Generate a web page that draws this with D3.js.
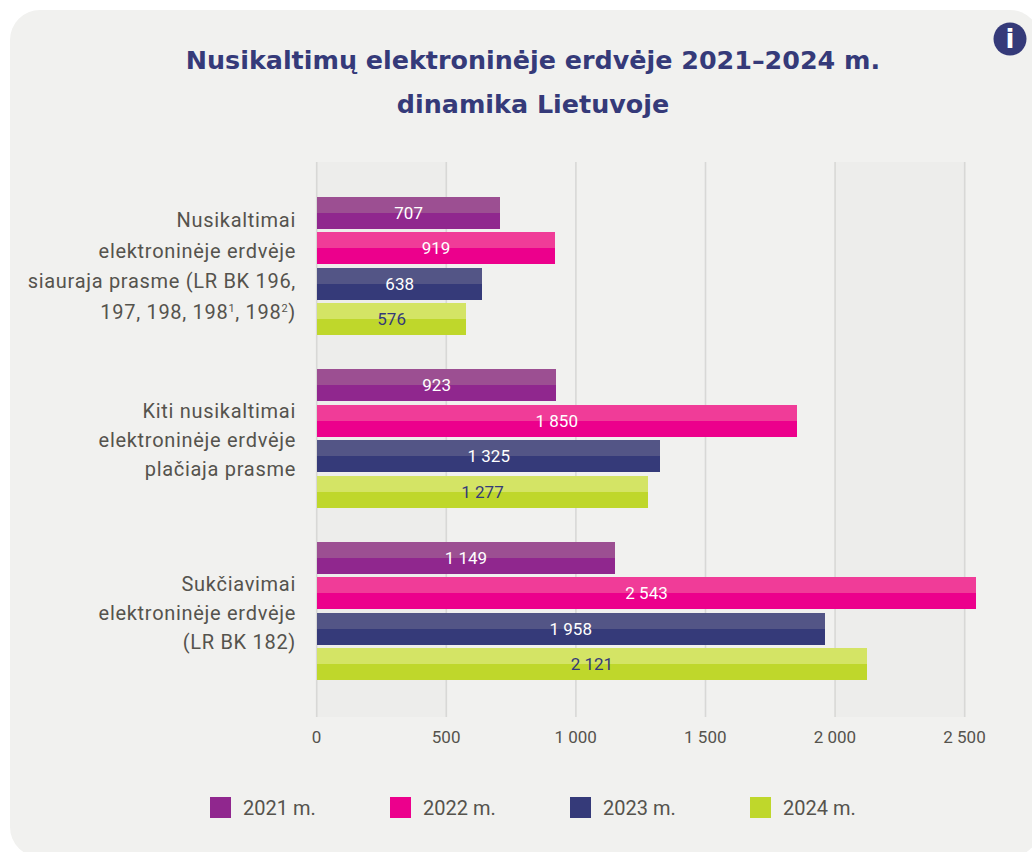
<!DOCTYPE html>
<html>
<head>
<meta charset="utf-8">
<script src="https://cdn.jsdelivr.net/npm/d3@7"></script>
<style>
  body { margin: 0; background: #fff; }
  svg { display: block; }
  .ticks text { font-family: Roboto, sans-serif; font-size: 17px; fill: #55534d; }
</style>
</head>
<body>
<div id="chart"></div>
<script>
// data
var categories = ["siaura", "placia", "sukciavimai"];
var years = ["2021 m.", "2022 m.", "2023 m.", "2024 m."];
var values2021 = [707, 923, 1149];
var values2022 = [919, 1850, 2543];
var values2023 = [638, 1325, 1958];
var values2024 = [576, 1277, 2121];
var xTicks = [0, 500, 1000, 1500, 2000, 2500];
var shadedBands = [[0, 500], [2000, 2500]];

var colors = ["#90278e", "#ec008c", "#353a79", "#bfd72b"];
var lightColors = ["#9c4f92", "#f03c98", "#535586", "#d4e465"];
var valueColors = ["#fff", "#fff", "#fff", "#353a79"];

var titleLines = ["Nusikaltimų elektroninėje erdvėje 2021–2024 m.", "dinamika Lietuvoje"];
// each label line is a list of [text, isSuperscript] parts
var categoryLines = [
  [[["Nusikaltimai"]], [["elektroninėje erdvėje"]], [["siauraja prasme (LR BK 196,"]],
   [["197, 198, 198"], ["1", true], [", 198"], ["2", true], [")"]]],
  [[["Kiti nusikaltimai"]], [["elektroninėje erdvėje"]], [["plačiaja prasme"]]],
  [[["Sukčiavimai"]], [["elektroninėje erdvėje"]], [["(LR BK 182)"]]]
];

var series = [values2021, values2022, values2023, values2024];
var labelFont = "Roboto, sans-serif";
var fmt = function(d) { return d3.format(",")(d).replace(/,/g, " "); };

var svg = d3.select("#chart")
  .append("svg")
    .attr("width", 1032)
    .attr("height", 852);

// panel runs past the right and bottom edges of the window
svg.append("rect")
  .attr("x", 10).attr("y", 10)
  .attr("width", 1030).attr("height", 847)
  .attr("rx", 30)
  .style("fill", "#f1f1ef");

var x = d3.scaleLinear().domain([0, 2500]).range([317, 965]);
var y = d3.scaleBand().domain(categories).range([180, 697]);
var yInner = d3.scaleBand().domain(d3.range(4)).range([17, y.bandwidth() - 17]).paddingInner(0.1);
var plotTop = 162, plotBottom = 717;

// shaded background columns
svg.selectAll(".shade")
  .data(shadedBands)
  .enter().append("rect")
    .attr("x", function(d) { return x(d[0]); })
    .attr("y", plotTop)
    .attr("width", function(d) { return x(d[1]) - x(d[0]); })
    .attr("height", plotBottom - plotTop)
    .style("fill", "#ededeb");

// axis, the tick lines are the grid
var axis = svg.append("g")
  .attr("transform", "translate(0," + plotBottom + ")")
  .call(d3.axisBottom(x).tickValues(xTicks).tickFormat(fmt).tickSize(plotTop - plotBottom).tickPadding(0));
axis.attr("class", "ticks");
axis.select(".domain").remove();
axis.selectAll("line")
  .attr("x1", -0.8).attr("x2", -0.8)
  .style("stroke", "#d8d8d6")
  .style("stroke-width", 1.6);
axis.selectAll("text").attr("y", 26).attr("dy", 0).attr("dx", -1);

// bars
var groups = svg.selectAll(".group")
  .data(categories)
  .enter().append("g")
    .attr("transform", function(d) { return "translate(0," + y(d) + ")"; });

var bars = groups.selectAll(".bar")
  .data(function(d, i) { return series.map(function(s, k) { return {k: k, value: s[i]}; }); })
  .enter().append("g");

bars.append("rect")
  .attr("x", x(0))
  .attr("y", function(d) { return yInner(d.k); })
  .attr("width", function(d) { return x(d.value) - x(0); })
  .attr("height", yInner.bandwidth())
  .attr("shape-rendering", "crispEdges")
  .style("fill", function(d) { return colors[d.k]; });

bars.append("rect")
  .attr("x", x(0))
  .attr("y", function(d) { return yInner(d.k); })
  .attr("width", function(d) { return x(d.value) - x(0); })
  .attr("height", yInner.bandwidth() / 2)
  .attr("shape-rendering", "crispEdges")
  .style("fill", function(d) { return lightColors[d.k]; });

bars.append("text")
  .attr("x", function(d) { return (x(d.value) + x(0)) / 2; })
  .attr("y", function(d) { return yInner(d.k) + yInner.bandwidth() / 2 + 6; })
  .attr("text-anchor", "middle")
  .style("font-family", labelFont)
  .style("font-size", "17px")
  .style("fill", function(d) { return valueColors[d.k]; })
  .text(function(d) { return fmt(d.value); });

// category labels
groups.each(function(d, i) {
  var lines = categoryLines[i];
  var gap = lines.length > 3 ? 30.5 : 29;
  var first = y.bandwidth() / 2 + (lines.length > 3 ? 7 : 9) - (lines.length - 1) * gap / 2;
  var label = d3.select(this).append("text")
    .attr("text-anchor", "end")
    .style("font-family", labelFont)
    .style("font-size", "20px")
    .style("letter-spacing", "0.7px")
    .style("fill", "#55534d");
  lines.forEach(function(parts, n) {
    var line = label.append("tspan").attr("x", 296).attr("y", first + n * gap);
    var raised = false;
    parts.forEach(function(p) {
      var sup = !!p[1];
      line.append("tspan")
        .style("font-size", sup ? "11px" : null)
        .attr("dy", sup ? -7 : (raised ? 7 : 0))
        .text(p[0]);
      raised = sup;
    });
  });
});

// title
svg.selectAll(".title")
  .data(titleLines)
  .enter().append("text")
    .attr("x", 533)
    .attr("y", function(d, i) { return 69 + i * 44; })
    .attr("text-anchor", "middle")
    .style("font-family", "'DejaVu Sans', sans-serif")
    .style("font-weight", "bold")
    .style("font-size", "25.4px")
    .style("fill", "#353a79")
    .text(function(d) { return d; });

// legend
var legendX = d3.scalePoint().domain(years).range([210, 750]);
var legend = svg.selectAll(".legend")
  .data(years)
  .enter().append("g")
    .attr("transform", function(d) { return "translate(" + legendX(d) + ",797)"; });
legend.append("rect")
  .attr("width", 21).attr("height", 21)
  .style("fill", function(d, i) { return colors[i]; });
legend.append("text")
  .attr("x", 33).attr("y", 18)
  .style("font-family", labelFont)
  .style("font-size", "20px")
  .style("fill", "#55534d")
  .text(function(d) { return d; });

// info icon
svg.append("circle")
  .attr("cx", 1010).attr("cy", 39).attr("r", 16.5)
  .style("fill", "#353a79");
svg.append("text")
  .attr("x", 1010).attr("y", 48)
  .attr("text-anchor", "middle")
  .style("font-family", "'DejaVu Sans', sans-serif")
  .style("font-weight", "bold")
  .style("font-size", "26px")
  .style("fill", "#fff")
  .text("i");
</script>
</body>
</html>
